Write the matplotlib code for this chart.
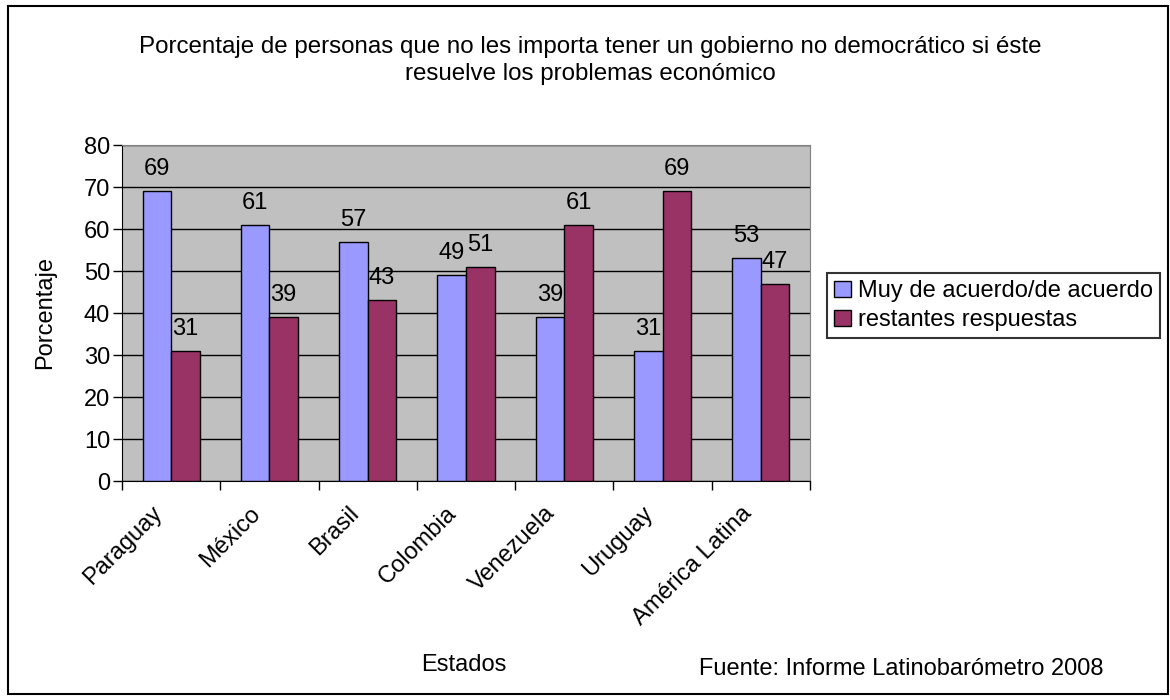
import matplotlib.pyplot as plt
import numpy as np
from matplotlib.patches import Rectangle

plt.rcParams['font.family'] = ['Liberation Sans', 'DejaVu Sans']

paises = ['Paraguay', 'México', 'Brasil', 'Colombia', 'Venezuela', 'Uruguay', 'América Latina']
acuerdo = [69, 61, 57, 49, 39, 31, 53]
restantes = [31, 39, 43, 51, 61, 69, 47]

FS = 17
W, H = 1170, 700

fig = plt.figure(figsize=(11.7, 7), dpi=100)
ax = fig.add_axes([122 / W, 1 - 481 / H, 688 / W, 336 / H])

# marco exterior del gráfico
fig.patches.append(Rectangle((8 / W, 6 / H), 1160 / W, 688 / H,
                             transform=fig.transFigure, fill=False,
                             edgecolor='black', linewidth=1.5))

x = np.arange(len(paises))
w = 0.29
ax.set_facecolor('#c0c0c0')
b1 = ax.bar(x - w / 2, acuerdo, w, color='#9999ff', edgecolor='black',
            linewidth=1, label='Muy de acuerdo/de acuerdo', zorder=3)
b2 = ax.bar(x + w / 2, restantes, w, color='#993366', edgecolor='black',
            linewidth=1, label='restantes respuestas', zorder=3)

for xi, v in zip(x - w / 2, acuerdo):
    ax.annotate(str(v), (xi, v), xytext=(0, 11.5), textcoords='offset points',
                ha='center', va='baseline', fontsize=FS)
for xi, v in zip(x + w / 2, restantes):
    ax.annotate(str(v), (xi, v), xytext=(0, 11.5), textcoords='offset points',
                ha='center', va='baseline', fontsize=FS)

ax.set_xlim(-0.5, len(paises) - 0.5)
ax.set_ylim(0, 80)
ax.set_yticks(range(0, 81, 10))
ax.yaxis.grid(True, color='black', linewidth=1, zorder=0)
ax.set_axisbelow(True)
ax.set_xticks(np.arange(len(paises) + 1) - 0.5)
ax.set_xticklabels([])
ax.tick_params(axis='x', direction='out', length=6.5, width=1)
ax.tick_params(axis='y', direction='out', length=6.5, width=1, labelsize=FS, pad=2)

# etiquetas de categoría inclinadas, terminando bajo el centro de cada grupo
for xi, nombre in zip(x, paises):
    ax.annotate(nombre, (xi, 0), xycoords=ax.get_xaxis_transform(),
                xytext=(-9, -21), textcoords='offset points',
                rotation=45, rotation_mode='anchor', ha='right', va='center',
                fontsize=FS, annotation_clip=False)

for s in ['top', 'right']:
    ax.spines[s].set_color('#808080')
for s in ['left', 'bottom']:
    ax.spines[s].set_color('black')

fig.text(45 / W, 1 - 313 / H, 'Porcentaje', rotation=90, ha='center',
         va='center', fontsize=FS)
fig.text(464 / W, 1 - 665 / H, 'Estados', ha='center', va='center', fontsize=FS)
fig.text(699 / W, 1 - 669 / H, 'Fuente: Informe Latinobarómetro 2008',
         ha='left', va='center', fontsize=FS)
fig.text(590 / W, 1 - 47 / H,
         'Porcentaje de personas que no les importa tener un gobierno no democrático si éste',
         ha='center', va='center', fontsize=17.4)
fig.text(590 / W, 1 - 74 / H, 'resuelve los problemas económico',
         ha='center', va='center', fontsize=17.4)

leg = fig.legend(handles=[b1, b2], loc='upper left',
                 bbox_to_anchor=(827 / W, 1 - 273 / H), fontsize=FS,
                 frameon=True, fancybox=False, edgecolor='black',
                 handlelength=0.7, handleheight=0.7, handletextpad=0.3,
                 borderpad=0.3, labelspacing=0.3, borderaxespad=0)
leg.get_frame().set_linewidth(1.5)

fig.savefig('out.png', dpi=100)
